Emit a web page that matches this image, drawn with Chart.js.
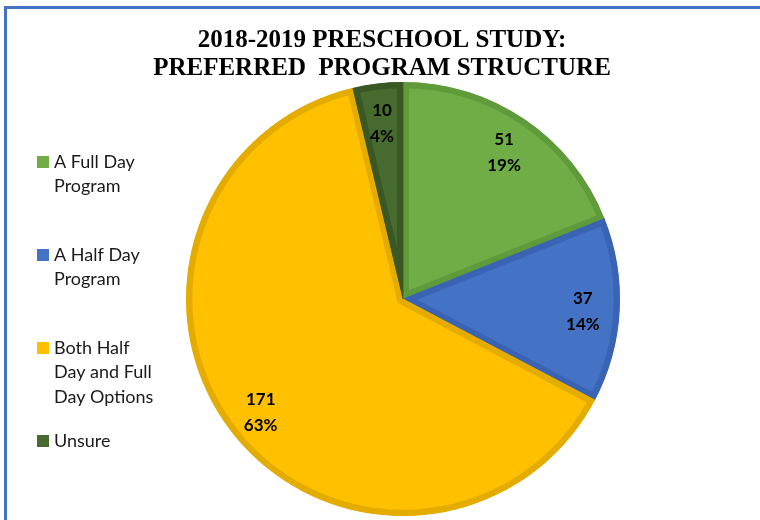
<!DOCTYPE html>
<html>
<head>
<meta charset="utf-8">
<script src="https://cdn.jsdelivr.net/npm/chart.js@4.4.1/dist/chart.umd.min.js"></script>
<style>
  html, body { margin: 0; padding: 0; background: #fff; overflow: hidden; }
  #wrap { position: relative; width: 760px; height: 520px; }
  #frame {
    position: absolute; left: 4px; top: 6px; right: 0; bottom: 0;
    border-top: 3px solid #4472C4; border-left: 3px solid #4472C4;
    pointer-events: none;
  }
</style>
</head>
<body>
<div id="wrap"><canvas id="c"></canvas><div id="frame"></div></div>
<script>
// Survey results: preferred program structure
const titleLines = ['2018-2019 PRESCHOOL STUDY:', 'PREFERRED  PROGRAM STRUCTURE'];
const categories = [
  ['A Full Day', 'Program'],
  ['A Half Day', 'Program'],
  ['Both Half', 'Day and Full', 'Day Options'],
  ['Unsure']
];
const responses = [51, 37, 171, 10];
const shareLabels = ['19%', '14%', '63%', '4%'];

const fillColors = ['#70AD47', '#4472C4', '#FFC000', '#476B2E'];
const edgeColors = ['#5F9A3B', '#3A64B3', '#E5AC00', '#3A5726'];

// Draws the title, the side legend and the value/percent labels on each slice
const annotate = {
  id: 'annotate',
  afterDatasetsDraw(chart) {
    const ctx = chart.ctx;
    const meta = chart.getDatasetMeta(0);
    const values = chart.data.datasets[0].data;
    ctx.save();
    ctx.textAlign = 'center';
    ctx.textBaseline = 'middle';

    // slice labels
    ctx.fillStyle = '#000';
    ctx.font = 'bold 17px Lato';
    meta.data.forEach((arc, i) => {
      const p = arc.getProps(['x', 'y', 'startAngle', 'endAngle', 'outerRadius'], true);
      const mid = (p.startAngle + p.endAngle) / 2;
      const r = p.outerRadius * 0.83;
      const cx = p.x + Math.cos(mid) * r;
      const cy = p.y + Math.sin(mid) * r + 3;
      ctx.fillText(String(values[i]), cx, cy - 13);
      ctx.fillText(shareLabels[i], cx, cy + 13);
    });

    // title
    ctx.font = 'bold 25px "Liberation Serif"';
    titleLines.forEach((t, k) => ctx.fillText(t, 382, 41 + k * 28));

    // legend
    ctx.textAlign = 'left';
    ctx.font = '18px Lato';
    chart.data.labels.forEach((lines, i) => {
      const top = 162 + i * 93;
      ctx.fillStyle = fillColors[i];
      ctx.fillRect(37, top - 6, 12, 12);
      ctx.fillStyle = '#1a1a1a';
      lines.forEach((ln, k) => ctx.fillText(ln, 54, top + k * 24.5));
    });
    ctx.restore();
  }
};

new Chart(document.getElementById('c'), {
  type: 'pie',
  data: {
    labels: categories,
    datasets: [{
      data: responses,
      backgroundColor: fillColors,
      borderColor: edgeColors,
      borderWidth: 6,
      borderAlign: 'inner'
    }]
  },
  options: {
    responsive: true,
    maintainAspectRatio: false,
    animation: false,
    layout: { padding: { top: 82, bottom: 4, left: 186, right: 140 } },
    plugins: {
      legend: { display: false },
      title: { display: false },
      tooltip: { enabled: false }
    }
  },
  plugins: [annotate]
});
</script>
</body>
</html>
